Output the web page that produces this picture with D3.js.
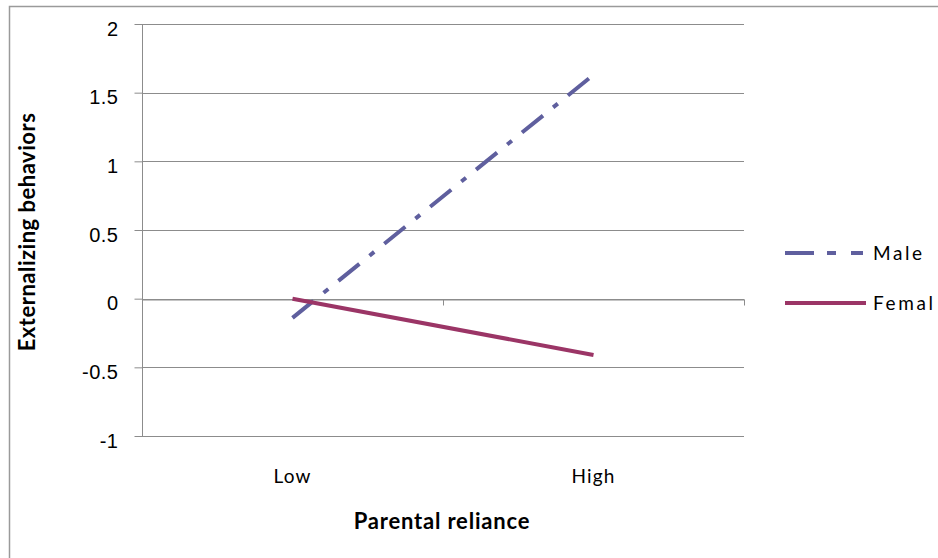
<!DOCTYPE html>
<html>
<head>
<meta charset="utf-8">
<script src="https://cdn.jsdelivr.net/npm/d3@7"></script>
<style>
  html, body { margin: 0; padding: 0; background: #fff; }
  svg { display: block; font-family: Lato, "Open Sans", sans-serif; }
</style>
</head>
<body>
<svg id="chart" width="938" height="558"></svg>
<script>
// Simple-slopes plot: externalizing behaviors by parental reliance, split by sex
const categories = ["Low", "High"];
const seriesNames = ["Male", "Femal"];
const maleValues = [-0.14, 1.63];
const femaleValues = [0.0, -0.41];
const yTicks = [-1, -0.5, 0, 0.5, 1, 1.5, 2];

const colors = { Male: "#5f5f9e", Femal: "#9b3566" };
const dashes = { Male: "27,13,6,13", Femal: null };

const svg = d3.select("#chart");
const plot = { left: 142, right: 744, top: 24, bottom: 436 };

// Outer chart frame
svg.append("rect")
  .attr("x", 9.5).attr("y", 6.5)
  .attr("width", 960).attr("height", 600)
  .attr("fill", "none").attr("stroke", "#9a9a9a").attr("stroke-width", 1.5);

const x = d3.scaleBand().domain(categories).range([plot.left, plot.right]);
const y = d3.scaleLinear().domain([-1, 2]).range([plot.bottom, plot.top]);

// Horizontal gridlines
svg.append("g").selectAll("line").data(yTicks).join("line")
  .attr("x1", plot.left).attr("x2", plot.right)
  .attr("y1", d => Math.round(y(d)) + 0.5).attr("y2", d => Math.round(y(d)) + 0.5)
  .attr("stroke", "#8c8c8c").attr("stroke-width", 1);

// Value axis
const yAxis = svg.append("g")
  .attr("transform", `translate(${plot.left + 0.5},0)`)
  .call(d3.axisLeft(y).tickValues(yTicks).tickSize(8).tickPadding(16)
    .tickFormat(d => String(d)));
yAxis.select(".domain").attr("stroke", "#8c8c8c").attr("d", `M0,${plot.top}V${plot.bottom}`);
yAxis.selectAll(".tick line").attr("stroke", "#8c8c8c");
yAxis.selectAll(".tick text")
  .attr("font-size", 20).attr("letter-spacing", "0.5px")
  .attr("fill", "#000").attr("dy", "0.55em");

// Category axis crossing at zero
const xAxis = svg.append("g")
  .attr("transform", `translate(0,${Math.round(y(0)) + 0.5})`)
  .call(d3.axisBottom(x).tickSize(0).tickFormat(""));
xAxis.select(".domain").attr("stroke", "#8c8c8c");
const bandEdges = [x.range()[0] + x.bandwidth(), x.range()[1]];
xAxis.selectAll(".edge").data(bandEdges).join("line")
  .attr("x1", d => Math.round(d) + 0.5).attr("x2", d => Math.round(d) + 0.5)
  .attr("y1", 0).attr("y2", 6)
  .attr("stroke", "#8c8c8c");

// Category labels below the plot
svg.append("g").selectAll("text").data(categories).join("text")
  .attr("x", d => x(d) + x.bandwidth() / 2)
  .attr("y", 483)
  .attr("text-anchor", "middle")
  .attr("font-size", 19).attr("letter-spacing", "1.2px")
  .text(d => d);

// Axis titles
svg.append("text")
  .attr("x", 442).attr("y", 529)
  .attr("text-anchor", "middle")
  .attr("font-size", 22).attr("font-weight", "bold").attr("letter-spacing", "0.8px")
  .text("Parental reliance");
svg.append("text")
  .attr("transform", "translate(35,232) rotate(-90)")
  .attr("text-anchor", "middle")
  .attr("font-size", 22).attr("font-weight", "bold").attr("letter-spacing", "0.5px")
  .text("Externalizing behaviors");

// Series lines
const series = [
  { name: "Male", values: maleValues },
  { name: "Femal", values: femaleValues }
];
const line = d3.line()
  .x((d, i) => x(categories[i]) + x.bandwidth() / 2)
  .y(d => y(d));

svg.append("g").selectAll("path").data(series).join("path")
  .attr("d", d => line(d.values))
  .attr("fill", "none")
  .attr("stroke", d => colors[d.name])
  .attr("stroke-width", 4)
  .attr("stroke-dasharray", d => dashes[d.name]);

// Legend
const legend = svg.append("g").selectAll("g").data(seriesNames).join("g")
  .attr("transform", (d, i) => `translate(785,${253 + i * 50})`);
legend.append("line")
  .attr("x1", 0).attr("x2", 81).attr("y1", 0).attr("y2", 0)
  .attr("stroke", d => colors[d])
  .attr("stroke-width", 4)
  .attr("stroke-dasharray", d => d === "Male" ? "29,13,9,15,12" : null);
legend.append("text")
  .attr("x", 88).attr("y", 7)
  .attr("font-size", 19)
  .attr("letter-spacing", "2.6px")
  .text(d => d);
</script>
</body>
</html>
